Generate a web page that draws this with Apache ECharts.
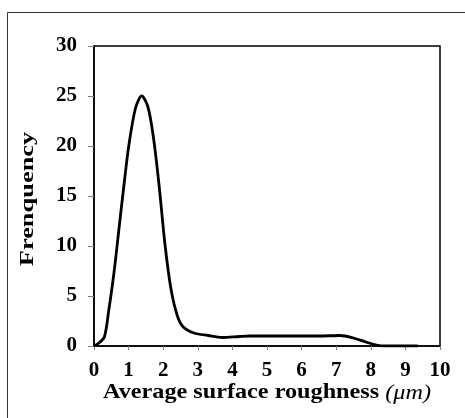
<!DOCTYPE html>
<html><head><meta charset="utf-8">
<script src="https://cdn.jsdelivr.net/npm/echarts@6/dist/echarts.min.js"></script>
<style>html,body{margin:0;padding:0;background:#fff}#c{width:465px;height:418px}</style>
</head><body><div id="c"></div>
<script>
var roughness = [0, 0.14, 0.3, 0.42, 0.58, 0.75, 0.88, 1.0, 1.2, 1.38, 1.56, 1.72, 1.88, 2.05, 2.22, 2.41, 2.58, 2.89, 3.3, 3.7, 4.2, 4.5, 5.5, 6.5, 7.1, 7.5, 7.9, 8.3, 8.6, 9.36];
var frequency = [0, 0.3, 0.9, 3.4, 7.4, 12.6, 16.5, 19.9, 23.8, 25.0, 23.9, 20.8, 16.1, 10.2, 5.8, 3.0, 1.9, 1.3, 1.05, 0.85, 0.95, 1.0, 1.0, 1.0, 1.05, 0.8, 0.35, 0.02, 0, 0];
var xTicks = [0,1,2,3,4,5,6,7,8,9,10];
var yTicks = [0,5,10,15,20,25,30];
var xTitleMain = 'Average surface roughness ';
var xTitleUnit = '(μm)';
var yTitle = 'Frenquency';

var data = roughness.map(function(x,i){return [x, frequency[i]];});
var font = '"Liberation Serif", "Times New Roman", serif';
var chart = echarts.init(document.getElementById('c'), null, {renderer:'canvas'});
chart.setOption({
  animation:false,
  backgroundColor:'#fff',
  graphic:[
    {type:'rect', shape:{x:7.5,y:12.5,width:600,height:600}, style:{fill:'none', stroke:'#333', lineWidth:1}, silent:true, z:-1},
    {type:'text', x:267, y:393, scaleX:1.153, silent:true,
      style:{text:'{b|'+xTitleMain+'}{i|'+xTitleUnit+'}', x:0, y:0, textAlign:'center', textVerticalAlign:'middle',
        rich:{b:{fontFamily:font, fontWeight:'bold', fontSize:21, fill:'#000'},
              i:{fontFamily:font, fontStyle:'italic', fontSize:21, fill:'#000'}}}},
    {type:'text', x:28, y:199, rotation:Math.PI/2, scaleX:1.467, silent:true,
      style:{text:yTitle, x:0, y:0, textAlign:'center', textVerticalAlign:'middle',
        fontFamily:font, fontWeight:'bold', fontSize:18, fill:'#000'}}
  ],
  grid:{left:94, top:46, right:25, bottom:72, show:true, borderColor:'#000', borderWidth:1.5, backgroundColor:'transparent'},
  xAxis:{type:'value', min:0, max:10, interval:1,
    axisLine:{onZero:false, lineStyle:{color:'#000', width:1.5}},
    axisTick:{show:true, inside:false, length:4, lineStyle:{color:'#808080'}},
    splitLine:{show:false},
    axisLabel:{margin:14, color:'#000', fontFamily:font, fontWeight:'bold', fontSize:21,
      formatter:function(v){return xTicks.indexOf(v)>=0 ? String(v) : '';}}
  },
  yAxis:{type:'value', min:0, max:30, interval:5,
    axisLine:{show:true, onZero:false, lineStyle:{color:'#000', width:1.5}},
    axisTick:{show:true, inside:false, length:6, lineStyle:{color:'#808080'}},
    splitLine:{show:false},
    axisLabel:{margin:17, color:'#000', fontFamily:font, fontWeight:'bold', fontSize:21,
      formatter:function(v){return yTicks.indexOf(v)>=0 ? String(v) : '';}}
  },
  series:[{type:'line', data:data, smooth:0.3, symbol:'none',
    lineStyle:{color:'#000', width:2.8}}]
});
</script></body></html>
